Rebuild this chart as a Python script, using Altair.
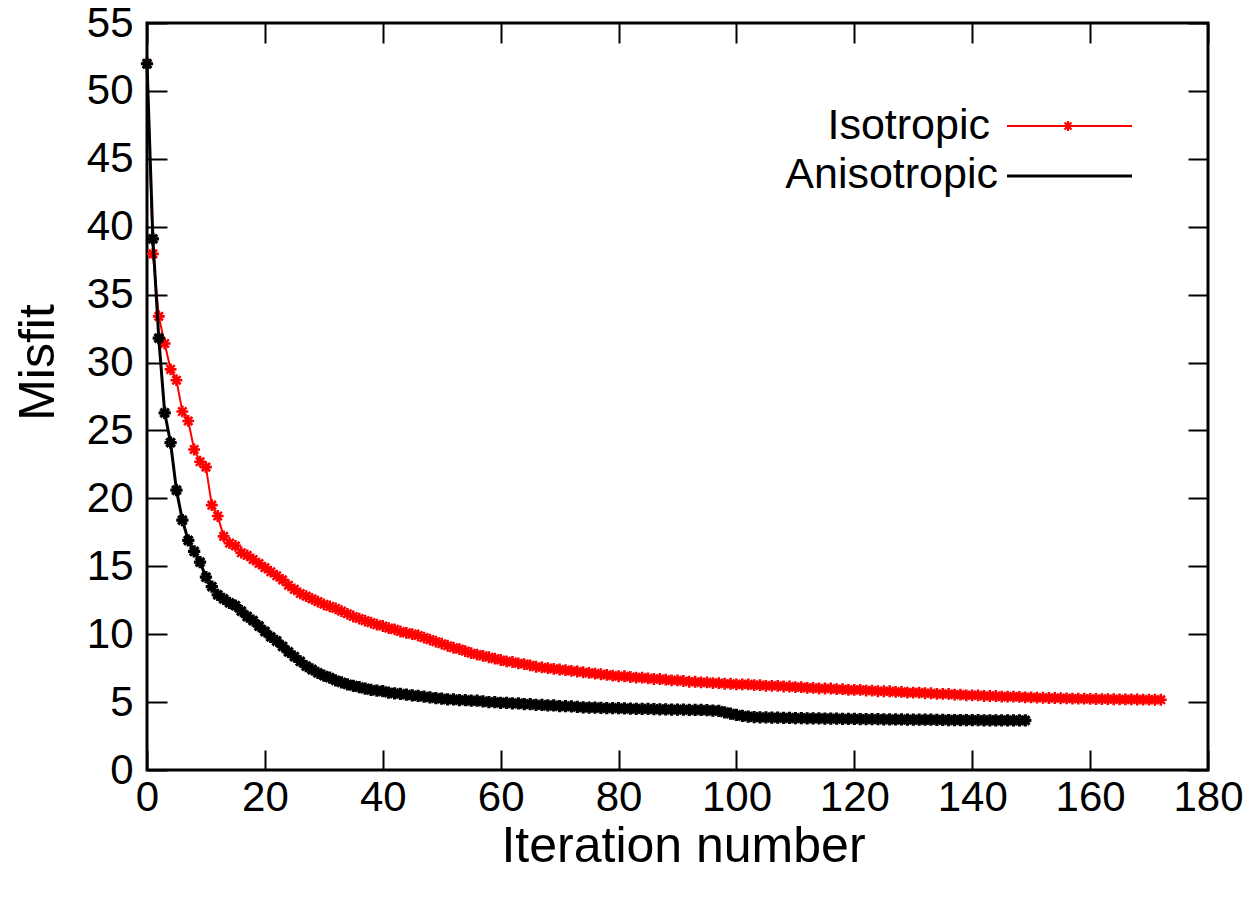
import altair as alt
import pandas as pd

iso_misfit = [
    52.0, 38.0, 33.4, 31.4, 29.5, 28.7, 26.4, 25.7, 23.6, 22.7,
    22.3, 19.5, 18.7, 17.2, 16.7, 16.5, 16.0, 15.8, 15.5, 15.2,
    14.9, 14.6, 14.3, 14.0, 13.6, 13.3, 13.0, 12.8, 12.6, 12.4,
    12.2, 12.05, 11.9, 11.7, 11.5, 11.3, 11.15, 11.0, 10.85, 10.7,
    10.6, 10.45, 10.35, 10.2, 10.1, 10.0, 9.9, 9.75, 9.6, 9.45,
    9.3, 9.15, 9.0, 8.9, 8.75, 8.6, 8.5, 8.4, 8.3, 8.2,
    8.1, 8.0, 7.95, 7.85, 7.8, 7.7, 7.6, 7.55, 7.5, 7.45,
    7.4, 7.35, 7.3, 7.25, 7.2, 7.15, 7.1, 7.05, 7.0, 6.95,
    6.9, 6.9, 6.85, 6.8, 6.8, 6.75, 6.7, 6.7, 6.65, 6.6,
    6.6, 6.55, 6.5, 6.5, 6.45, 6.45, 6.4, 6.4, 6.35, 6.35,
    6.3, 6.3, 6.3, 6.25, 6.25, 6.2, 6.2, 6.2, 6.15, 6.15,
    6.1, 6.1, 6.05, 6.05, 6.0, 6.0, 6.0, 5.95, 5.95, 5.9,
    5.9, 5.9, 5.85, 5.85, 5.8, 5.8, 5.8, 5.75, 5.75, 5.7,
    5.7, 5.7, 5.65, 5.65, 5.6, 5.6, 5.6, 5.55, 5.55, 5.5,
    5.5, 5.5, 5.45, 5.45, 5.45, 5.4, 5.4, 5.4, 5.38, 5.35,
    5.35, 5.33, 5.32, 5.3, 5.3, 5.28, 5.27, 5.26, 5.25, 5.25,
    5.24, 5.23, 5.22, 5.22, 5.21, 5.2, 5.2, 5.2, 5.19, 5.18,
    5.18, 5.17, 5.17,
]

aniso_misfit = [
    52.0, 39.1, 31.8, 26.3, 24.1, 20.6, 18.4, 16.9, 16.1, 15.3,
    14.2, 13.5, 12.9, 12.6, 12.3, 12.1, 11.7, 11.3, 11.0, 10.6,
    10.2, 9.8, 9.5, 9.1, 8.7, 8.35, 8.0, 7.65, 7.4, 7.15,
    6.95, 6.8, 6.6, 6.45, 6.3, 6.2, 6.1, 6.0, 5.9, 5.85,
    5.8, 5.7, 5.65, 5.6, 5.55, 5.5, 5.45, 5.4, 5.35, 5.3,
    5.25, 5.2, 5.2, 5.15, 5.15, 5.1, 5.1, 5.05, 5.0, 5.0,
    4.95, 4.95, 4.9, 4.9, 4.85, 4.85, 4.8, 4.8, 4.75, 4.75,
    4.7, 4.7, 4.68, 4.65, 4.62, 4.6, 4.6, 4.58, 4.56, 4.55,
    4.55, 4.53, 4.52, 4.5, 4.5, 4.5, 4.48, 4.47, 4.46, 4.45,
    4.45, 4.44, 4.43, 4.42, 4.42, 4.4, 4.38, 4.35, 4.25, 4.15,
    4.05, 3.98, 3.93, 3.9, 3.88, 3.87, 3.86, 3.85, 3.84, 3.83,
    3.82, 3.82, 3.81, 3.8, 3.8, 3.79, 3.78, 3.78, 3.77, 3.76,
    3.76, 3.75, 3.75, 3.74, 3.74, 3.73, 3.73, 3.72, 3.72, 3.71,
    3.71, 3.7, 3.7, 3.7, 3.69, 3.69, 3.68, 3.68, 3.68, 3.67,
    3.67, 3.67, 3.66, 3.66, 3.66, 3.65, 3.65, 3.65, 3.65, 3.65,
]

x_ticks = list(range(0, 181, 20))
y_ticks = list(range(0, 56, 5))
series_names = ["Isotropic", "Anisotropic"]
series_colors = ["#ff0000", "#000000"]

FONT = "Liberation Sans"
ASTER = "M-1,0L1,0M0,-1L0,1M-0.7,-0.7L0.7,0.7M-0.7,0.7L0.7,-0.7"

iso_df = pd.DataFrame({"iter": list(range(len(iso_misfit))), "misfit": iso_misfit})
aniso_df = pd.DataFrame({"iter": list(range(len(aniso_misfit))), "misfit": aniso_misfit})

xscale = alt.Scale(domain=[0, 180], nice=False, zero=False)
yscale = alt.Scale(domain=[0, 55], nice=False, zero=False)

x_axis = alt.Axis(values=x_ticks, tickSize=20, offset=-20, domain=False, grid=False,
                  tickColor="black", tickWidth=2, labelFontSize=42, labelFont=FONT,
                  labelColor="black", labelPadding=7, labelFlush=False,
                  title="Iteration number",
                  titleFontSize=50, titleFont=FONT, titleFontWeight="normal",
                  titleColor="black", titlePadding=3, titleX=536)
y_axis = alt.Axis(values=y_ticks, tickSize=20, offset=-20, domain=False, grid=False,
                  tickColor="black", tickWidth=2, labelFontSize=42, labelFont=FONT,
                  labelColor="black", labelPadding=14, labelFlush=False, title="Misfit",
                  titleFontSize=50, titleFont=FONT, titleFontWeight="normal",
                  titleColor="black", titlePadding=23, titleY=339)

x_top = alt.Axis(values=x_ticks, orient="top", tickSize=20, offset=-20, domain=False,
                 grid=False, labels=False, tickColor="black", tickWidth=2, title=None)
y_right = alt.Axis(values=y_ticks, orient="right", tickSize=20, offset=-20, domain=False,
                   grid=False, labels=False, tickColor="black", tickWidth=2, title=None)

iso_line = alt.Chart(iso_df).mark_line(color=series_colors[0], strokeWidth=2).encode(
    x=alt.X("iter:Q", scale=xscale, axis=x_axis),
    y=alt.Y("misfit:Q", scale=yscale, axis=y_axis),
)
iso_pts = alt.Chart(iso_df).mark_point(shape=ASTER, filled=False, color=series_colors[0],
                                       strokeWidth=2.6, size=140, opacity=1).encode(
    x=alt.X("iter:Q", scale=xscale, axis=None),
    y=alt.Y("misfit:Q", scale=yscale, axis=None),
)
an_line = alt.Chart(aniso_df).mark_line(color=series_colors[1], strokeWidth=3).encode(
    x=alt.X("iter:Q", scale=xscale, axis=None),
    y=alt.Y("misfit:Q", scale=yscale, axis=None),
)
an_pts = alt.Chart(aniso_df).mark_point(shape=ASTER, filled=False, color=series_colors[1],
                                        strokeWidth=3.2, size=150, opacity=1).encode(
    x=alt.X("iter:Q", scale=xscale, axis=None),
    y=alt.Y("misfit:Q", scale=yscale, axis=None),
)

mirror = alt.Chart(iso_df).mark_point(opacity=0).encode(
    x=alt.X("iter:Q", scale=xscale, axis=x_top),
    y=alt.Y("misfit:Q", scale=yscale, axis=y_right),
)

# legend (manual, gnuplot style)
leg_df = pd.DataFrame({"name": series_names, "color": series_colors})
leg_text_iso = alt.Chart(leg_df.iloc[[0]]).mark_text(
    align="right", baseline="alphabetic", fontSize=43, font=FONT, color="black"
).encode(x=alt.value(843), y=alt.value(116), text="name:N")
leg_text_an = alt.Chart(leg_df.iloc[[1]]).mark_text(
    align="right", baseline="alphabetic", fontSize=43, font=FONT, color="black"
).encode(x=alt.value(851), y=alt.value(165), text="name:N")
leg_rule_iso = alt.Chart(leg_df.iloc[[0]]).mark_rule(color=series_colors[0], strokeWidth=2).encode(
    x=alt.value(860), x2=alt.value(985), y=alt.value(103))
leg_rule_an = alt.Chart(leg_df.iloc[[1]]).mark_rule(color=series_colors[1], strokeWidth=3).encode(
    x=alt.value(860), x2=alt.value(985), y=alt.value(153))
leg_pt = alt.Chart(leg_df.iloc[[0]]).mark_point(shape=ASTER, filled=False, color=series_colors[0],
                                                strokeWidth=2.2, size=100, opacity=1).encode(
    x=alt.value(921), y=alt.value(103))

chart = alt.layer(
    iso_line, iso_pts, an_line, an_pts, mirror,
    leg_text_iso, leg_text_an, leg_rule_iso, leg_rule_an, leg_pt,
).resolve_axis(x="independent", y="independent").properties(
    width=1061, height=747,
    autosize=alt.AutoSizeParams(type="none"),
    padding={"left": 147, "top": 23, "right": 51, "bottom": 128},
    background="white",
).configure_view(stroke="black", strokeWidth=3)

chart.save("out.html", embed_options={"renderer": "svg", "actions": False})
